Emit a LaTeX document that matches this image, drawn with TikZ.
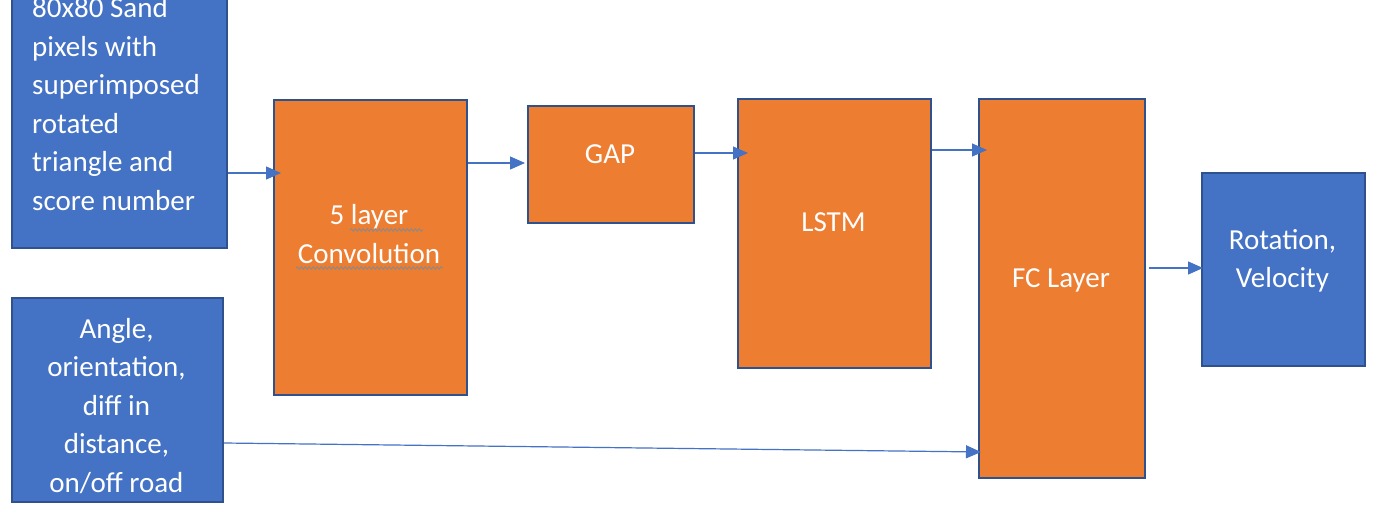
\documentclass[tikz,border=0pt]{standalone}
\usepackage{fontspec}
\setmainfont{Carlito}
\usetikzlibrary{arrows.meta,decorations.pathmorphing,calc}
\definecolor{fillblue}{HTML}{4472C4}
\definecolor{fillorange}{HTML}{ED7D31}
\definecolor{edgeblue}{HTML}{2F528F}
\definecolor{squiggle}{HTML}{8A8A8A}
\begin{document}
\begin{tikzpicture}[x=1pt,y=-1pt,
  box/.style={draw=edgeblue, line width=1.8pt, inner sep=0pt, anchor=north west},
  bluebox/.style={box, fill=fillblue},
  orangebox/.style={box, fill=fillorange},
  txt/.style={text=white, inner sep=0pt, font=\fontsize{29}{38.5}\selectfont, align=center},
  arr/.style={draw=fillblue, line width=1.2pt, -{Triangle[length=15pt,width=13pt]}},
  spell/.style={draw=squiggle, line width=0.9pt, decorate, decoration={snake, amplitude=1.3pt, segment length=4pt}}]
\useasboundingbox (0,0) rectangle (1400,505);
\clip (0,0) rectangle (1400,505);
\fill[white] (0,0) rectangle (1400,505);
% boxes
\node[bluebox, minimum width=215pt, minimum height=287pt] (in1) at (11,-40) {};
\node[bluebox, minimum width=211pt, minimum height=204pt] (in2) at (11,297) {};
\node[orangebox, minimum width=193pt, minimum height=295pt] (conv) at (273,99) {};
\node[orangebox, minimum width=166pt, minimum height=117pt] (gap) at (527,105) {};
\node[orangebox, minimum width=193pt, minimum height=269pt] (lstm) at (737,98) {};
\node[orangebox, minimum width=166pt, minimum height=379pt] (fc) at (978,98) {};
\node[bluebox, minimum width=163pt, minimum height=193pt] (out) at (1201,172) {};
% texts
\node[txt, align=left, anchor=west] (t1) at (32,104) {80x80 Sand\\pixels with\\superimposed\\rotated\\triangle and\\score number};
\node[txt] (t2) at (116.5,406) {Angle,\\orientation,\\diff in\\distance,\\on/off road};
\node[txt] (tconv) at (369,234) {5 layer\\Convolution};
\node[txt] (tgap) at (610,154) {GAP};
\node[txt] (tlstm) at (833.5,222) {LSTM};
\node[txt] (tfc) at (1061,280) {FC Layer};
\node[txt] (tout) at (1282.5,261) {Rotation,\\Velocity};
% spell-check underlines
\draw[spell] (350,230) -- (423,230);
\draw[spell] (296,268) -- (443,268);
% connectors
\draw[arr] (in1.east |- 0,173) -- ($(conv.west |- 0,173)+(8,0)$);
\draw[arr] (conv.east |- 0,163) -- ($(gap.west |- 0,163)+(-2,0)$);
\draw[arr] (gap.east |- 0,153) -- ($(lstm.west |- 0,153)+(11,0)$);
\draw[arr] (lstm.east |- 0,150) -- ($(fc.west |- 0,150)+(9,0)$);
\draw[arr] ($(fc.east |- 0,268)+(3,0)$) -- ($(out.west |- 0,268)+(2,0)$);
\draw[arr] (in2.east |- 0,443) -- ($(fc.west |- 0,452)+(3,0)$);
\end{tikzpicture}
\end{document}
